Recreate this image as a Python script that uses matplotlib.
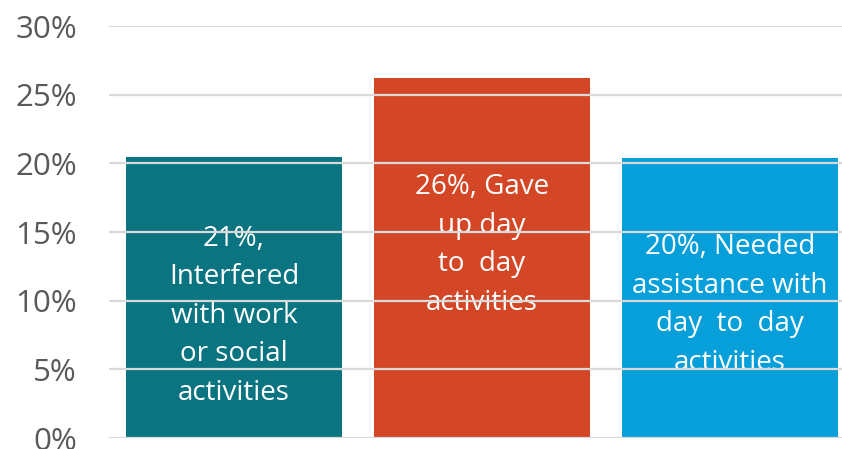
import matplotlib
matplotlib.use("Agg")
import matplotlib.pyplot as plt
from matplotlib.ticker import FuncFormatter

categories = ["Interfered with work or social activities",
              "Gave up day to day activities",
              "Needed assistance with day to day activities"]
values = [20.46, 26.2, 20.4]
label_texts = ["21%,\nInterfered\nwith work\nor social\nactivities",
               "26%, Gave\nup day\nto  day\nactivities",
               "20%, Needed\nassistance with\nday  to  day\nactivities"]
label_y = [8.9, 14.05, 9.7]
yticks = [0, 5, 10, 15, 20, 25, 30]
colors = ["#0A7480", "#D34727", "#069FD9"]

plt.rcParams['font.family'] = ['Open Sans', 'DejaVu Sans']
fig = plt.figure(figsize=(8.42, 4.49), dpi=100)
ax = fig.add_axes([109/842, 11/449, 1 - 109/842, (438-26)/449])

x = list(range(len(values)))
ax.bar(x, values, width=216/248, color=colors, zorder=2)
for xi, t, ly in zip(x, label_texts, label_y):
    ax.text(xi, ly, t, ha="center", va="center", color="white",
            fontsize=20, linespacing=1.5, zorder=2.2)

ax.set_xlim(-125/248, (842-234)/248)
ax.set_ylim(0, 30)
ax.set_yticks(yticks)
ax.yaxis.set_major_formatter(FuncFormatter(lambda v, p: f"{v:.0f}%"))
ax.set_xticks([])
ax.set_axisbelow(False)
ax.grid(axis="y", color="#D9D9D9", linewidth=1.6)
ax.tick_params(axis="y", length=0, pad=23, labelsize=22.5, labelcolor="#595959")
for s in ax.spines.values():
    s.set_visible(False)

fig.savefig("out.png", dpi=100)
